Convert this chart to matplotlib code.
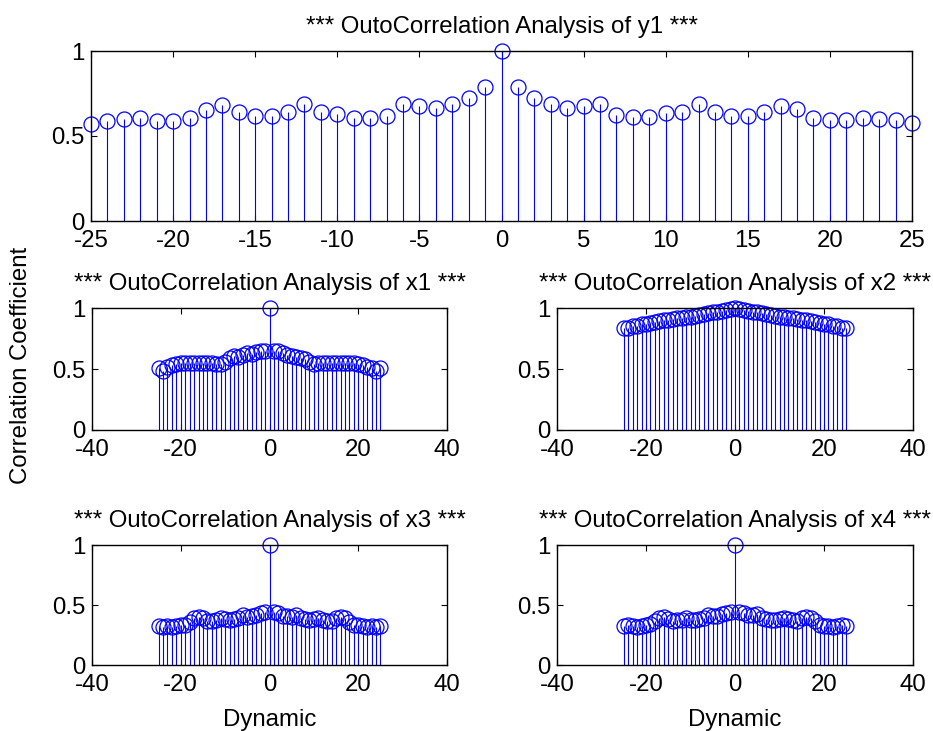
import numpy as np
import matplotlib
matplotlib.use("Agg")
import matplotlib.pyplot as plt

plt.rcParams['font.family'] = ['Liberation Sans', 'DejaVu Sans']
plt.rcParams['axes.unicode_minus'] = False

lags = list(range(-25, 26))

y1 = [0.573, 0.588, 0.600, 0.608, 0.588, 0.588, 0.608, 0.655, 0.682, 0.643,
      0.620, 0.620, 0.643, 0.690, 0.639, 0.631, 0.608, 0.608, 0.620, 0.690,
      0.675, 0.663, 0.690, 0.722, 0.788, 1.000, 0.788, 0.722, 0.690, 0.667,
      0.675, 0.686, 0.624, 0.612, 0.612, 0.635, 0.643, 0.690, 0.643, 0.620,
      0.620, 0.643, 0.678, 0.659, 0.608, 0.592, 0.592, 0.608, 0.600, 0.592,
      0.576]

x1 = [0.510, 0.480, 0.515, 0.530, 0.545, 0.550, 0.550, 0.552, 0.550, 0.553,
      0.552, 0.550, 0.548, 0.545, 0.545, 0.560, 0.590, 0.610, 0.600, 0.615,
      0.630, 0.625, 0.640, 0.650, 0.645, 1.000, 0.650, 0.645, 0.630, 0.615,
      0.610, 0.595, 0.590, 0.580, 0.560, 0.545, 0.550, 0.550, 0.552, 0.550,
      0.550, 0.548, 0.550, 0.552, 0.550, 0.545, 0.530, 0.520, 0.505, 0.480,
      0.510]

x2 = [0.835, 0.840, 0.850, 0.855, 0.865, 0.870, 0.880, 0.885, 0.895, 0.900,
      0.905, 0.910, 0.915, 0.920, 0.925, 0.930, 0.935, 0.945, 0.950, 0.955,
      0.965, 0.970, 0.975, 0.980, 0.990, 1.000, 0.990, 0.980, 0.975, 0.970,
      0.965, 0.955, 0.950, 0.945, 0.935, 0.930, 0.925, 0.920, 0.915, 0.910,
      0.905, 0.900, 0.895, 0.885, 0.880, 0.870, 0.865, 0.855, 0.850, 0.840,
      0.835]

x3 = [0.327, 0.320, 0.325, 0.318, 0.322, 0.330, 0.335, 0.360, 0.395, 0.400,
      0.390, 0.370, 0.370, 0.375, 0.395, 0.380, 0.375, 0.380, 0.390, 0.415,
      0.400, 0.410, 0.420, 0.430, 0.440, 1.000, 0.440, 0.430, 0.410, 0.410,
      0.400, 0.415, 0.390, 0.380, 0.375, 0.380, 0.395, 0.375, 0.370, 0.370,
      0.390, 0.400, 0.395, 0.360, 0.335, 0.330, 0.322, 0.318, 0.325, 0.320,
      0.327]

x4 = [0.326, 0.335, 0.325, 0.320, 0.322, 0.330, 0.340, 0.365, 0.395, 0.400,
      0.385, 0.365, 0.372, 0.376, 0.390, 0.376, 0.375, 0.380, 0.395, 0.420,
      0.405, 0.410, 0.425, 0.430, 0.445, 1.000, 0.445, 0.430, 0.420, 0.415,
      0.425, 0.395, 0.380, 0.375, 0.375, 0.385, 0.395, 0.380, 0.372, 0.370,
      0.390, 0.400, 0.395, 0.365, 0.335, 0.328, 0.322, 0.320, 0.325, 0.335,
      0.326]

titles = ["*** OutoCorrelation Analysis of y1 ***",
          "*** OutoCorrelation Analysis of x1 ***",
          "*** OutoCorrelation Analysis of x2 ***",
          "*** OutoCorrelation Analysis of x3 ***",
          "*** OutoCorrelation Analysis of x4 ***"]

W, H = 933, 731
fig = plt.figure(figsize=(W / 100, H / 100), dpi=100)

def pos(l, r, t, b):
    return [l / W, (H - b) / H, (r - l) / W, (b - t) / H]

boxes = [pos(91, 912, 51, 221),
         pos(92, 447, 308, 430),
         pos(557, 913, 308, 430),
         pos(92, 447, 545, 665),
         pos(557, 913, 545, 665)]
series = [y1, x1, x2, x3, x4]
FS = 17.3
blue = (0, 0, 1)

axes = []
for i, (box, vals, ttl) in enumerate(zip(boxes, series, titles)):
    ax = fig.add_axes(box)
    ml, sl, bl = ax.stem(lags, vals, linefmt='-', markerfmt='o', basefmt=' ')
    plt.setp(sl, color=blue, linewidth=0.8)
    plt.setp(ml, markerfacecolor='none', markeredgecolor=blue,
             markersize=10.8, markeredgewidth=0.9)
    ml.set_clip_on(False)
    ax.set_ylim(0, 1)
    ax.set_yticks([0, 0.5, 1])
    ax.set_yticklabels(['0', '0.5', '1'])
    if i == 0:
        ax.set_xlim(-25, 25)
        ax.set_xticks(range(-25, 26, 5))
    else:
        ax.set_xlim(-40, 40)
        ax.set_xticks([-40, -20, 0, 20, 40])
    ax.tick_params(direction='in', length=4, width=0.8, top=True, right=True,
                   labelsize=FS, colors='black')
    ax.tick_params(axis='x', pad=6.5)
    ax.tick_params(axis='y', pad=4.5)
    for s in ax.spines.values():
        s.set_linewidth(1.0)
    ax.set_title(ttl, fontsize=FS, pad=13)
    axes.append(ax)

axes[3].set_xlabel('Dynamic', fontsize=FS, labelpad=9)
axes[4].set_xlabel('Dynamic', fontsize=FS, labelpad=9)
fig.text(21 / W, 0.5, 'Correlation Coefficient', rotation=90,
         fontsize=FS, ha='center', va='center')

fig.savefig('out.png', dpi=100, facecolor='white')
